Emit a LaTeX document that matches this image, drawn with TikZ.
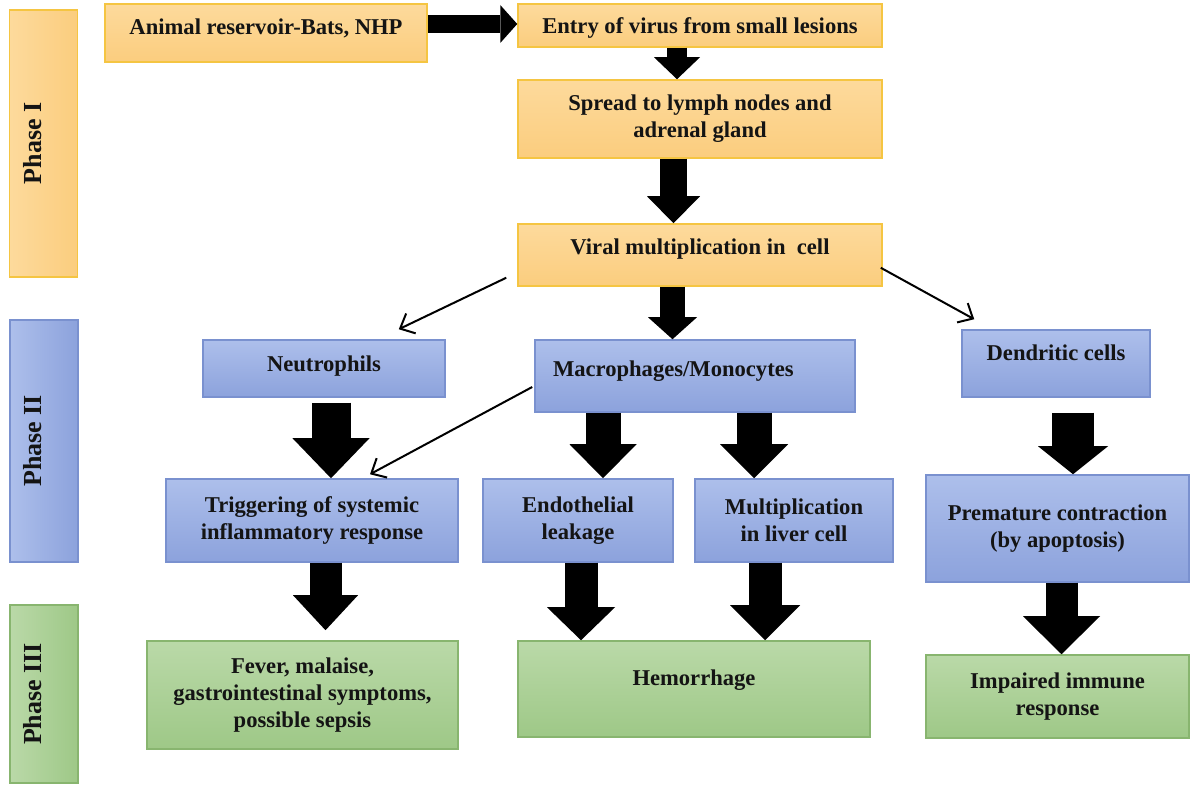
\documentclass[tikz,border=0pt]{standalone}
\usepackage{fontspec}
\setmainfont{Liberation Serif}
\usetikzlibrary{arrows.meta}

\definecolor{orgtop}{HTML}{FDDA9C}
\definecolor{orgbot}{HTML}{FBCD7E}
\definecolor{orgline}{HTML}{F5C542}
\definecolor{blutop}{HTML}{ADBFEB}
\definecolor{blubot}{HTML}{8CA2DC}
\definecolor{bluline}{HTML}{7A91CF}
\definecolor{grntop}{HTML}{BAD9A8}
\definecolor{grnbot}{HTML}{9EC887}
\definecolor{grnline}{HTML}{88B56F}
\definecolor{txtcol}{HTML}{141414}

\tikzset{
  box/.style={draw=#1line, line width=0.75pt, top color=#1top, bottom color=#1bot,
    font=\fontsize{11.3}{13.5}\selectfont\bfseries, text=txtcol, align=center, inner sep=2pt},
  orangebox/.style={box=org},
  bluebox/.style={box=blu},
  greenbox/.style={box=grn},
  oneline/.style={text height=8pt, text depth=#1},
  phasebox/.style={draw=#1line, line width=0.75pt, left color=#1top, right color=#1bot,
    minimum width=34pt},
  phaselbl/.style={xshift=-5.5pt, rotate=90, font=\fontsize{13}{15}\selectfont\bfseries, text=txtcol},
  bigarrow/.style n args={3}{draw=black, line width=#1, line cap=butt,
    -{Triangle[width=#2, length=#3, line width=0pt]}},
  thinarrow/.style={draw=black, line width=1pt, -{Straight Barb[length=6pt, width=11pt]}}
}

\begin{document}
\begin{tikzpicture}[x=0.5pt, y=-0.5pt]
    \useasboundingbox (0,0) rectangle (1190,785);

    % phase bars on the left
    \node[phasebox=org, minimum height=133.5pt, label={[phaselbl]center:Phase I}] (ph1) at (43.5,143.5) {};
    \node[phasebox=blu, minimum height=121pt, label={[phaselbl]center:Phase II}] (ph2) at (44,441) {};
    \node[phasebox=grn, minimum height=89pt, label={[phaselbl]center:Phase III}] (ph3) at (44,694) {};

    % phase I
    \node[orangebox, minimum width=161pt, minimum height=29pt, oneline=6.6pt] (animal) at (266,33) {Animal reservoir-Bats, NHP};
    \node[orangebox, minimum width=182pt, minimum height=21.5pt, oneline=0pt] (entry) at (700,25.5) {Entry of virus from small lesions};
    \node[orangebox, minimum width=182pt, minimum height=39pt] (spread) at (700,119) {Spread to lymph nodes and\\adrenal gland};
    \node[orangebox, minimum width=182pt, minimum height=31pt, oneline=8.6pt] (viral) at (700,255) {Viral multiplication in\ \ cell};

    % phase II
    \node[bluebox, minimum width=121pt, minimum height=28.5pt, oneline=4.6pt] (neut) at (324,368.5) {Neutrophils};
    \node[bluebox, minimum height=36pt, oneline=7.6pt, text width=142pt, inner xsep=9pt, align=left] (macro) at (695,376) {Macrophages/Monocytes};
    \node[bluebox, minimum width=94pt, minimum height=33.5pt, oneline=10.6pt] (dend) at (1056,363.5) {Dendritic cells};
    \node[bluebox, minimum width=146pt, minimum height=41.5pt] (trig) at (312,520.5) {Triggering of systemic\\inflammatory response};
    \node[bluebox, minimum width=95pt, minimum height=41.5pt] (endo) at (578,520.5) {Endothelial\\leakage};
    \node[bluebox, minimum width=99pt, minimum height=41.5pt] (liver) at (794,520.5) {Multiplication\\in liver cell};
    \node[bluebox, minimum width=131.5pt, minimum height=53.5pt] (prem) at (1057.5,528.5) {Premature contraction\\(by apoptosis)};

    % phase III
    \node[greenbox, minimum width=155.5pt, minimum height=54pt] (fever) at (302.5,695) {Fever, malaise,\\gastrointestinal symptoms,\\possible sepsis};
    \node[greenbox, minimum width=176pt, minimum height=48pt, oneline=11.6pt] (hem) at (694,689) {Hemorrhage};
    \node[greenbox, minimum width=131.5pt, minimum height=41.5pt] (imp) at (1057.5,696.5) {Impaired immune\\response};

    % block arrows
    \draw[bigarrow={9pt}{19pt}{8.5pt}] (animal.east |- 0,24) -- (entry.west |- 0,24);
    \draw[bigarrow={10pt}{23pt}{11pt}] (entry.south -| 677,0) -- (spread.north -| 677,0);
    \draw[bigarrow={13.5pt}{26.5pt}{13.5pt}] (spread.south -| 673.5,0) -- (viral.north -| 673.5,0);
    \draw[bigarrow={12.5pt}{24.5pt}{11pt}] (viral.south -| 672.5,0) -- (macro.north -| 672.5,0);
    \draw[bigarrow={19.5pt}{38.5pt}{20pt}, shorten <=2.5pt] (neut.south -| 331,0) -- (trig.north -| 331,0);
    \draw[bigarrow={17.5pt}{33.5pt}{17pt}] (macro.south -| 603,0) -- (endo.north -| 603,0);
    \draw[bigarrow={17.5pt}{34pt}{17pt}] (macro.south -| 754,0) -- (liver.north -| 754,0);
    \draw[bigarrow={21pt}{35pt}{14pt}, shorten <=7.5pt] (dend.south -| 1073,0) -- (prem.north -| 1073,0);
    \draw[bigarrow={16pt}{32.5pt}{17.5pt}, shorten >=5pt] (trig.south -| 325.5,0) -- (fever.north -| 325.5,0);
    \draw[bigarrow={16.5pt}{34pt}{16.5pt}] (endo.south -| 581,0) -- (hem.north -| 581,0);
    \draw[bigarrow={16.5pt}{35pt}{17.5pt}] (liver.south -| 765,0) -- (hem.north -| 765,0);
    \draw[bigarrow={16pt}{38.5pt}{19pt}] (prem.south -| 1061.5,0) -- (imp.north -| 1061.5,0);

    % thin arrows
    \draw[thinarrow] ([shift={(-11,-9)}]viral.south west) -- ([shift={(-47,-10)}]neut.north east);
    \draw[thinarrow] ([shift={(-2,-19)}]viral.south east) -- ([shift={(13,-10)}]dend.north west);
    \draw[thinarrow] ([shift={(-2,11)}]macro.west) -- ([shift={(58,-4)}]trig.north);
\end{tikzpicture}
\end{document}
